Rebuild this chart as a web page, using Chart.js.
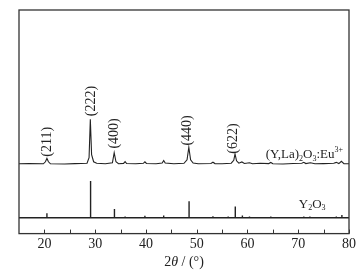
<!DOCTYPE html>
<html>
<head>
<meta charset="utf-8">
<script src="https://cdn.jsdelivr.net/npm/chart.js@4/dist/chart.umd.min.js"></script>
<style>
  html, body { margin: 0; padding: 0; background: #fff; }
  #wrap { width: 361px; height: 271px; }
</style>
</head>
<body>
<div id="wrap"><canvas id="xrd"></canvas></div>
<script>
// Upper pattern, (Y,La)2O3:Eu3+ (2theta, relative intensity)
const upperX = [15, 17, 19.8, 20.2, 20.5, 20.8, 21.2, 24, 26, 28.4, 28.8, 29.05, 29.3, 29.7, 30.3, 32,
    33.4, 33.75, 34.1, 34.6, 35.6, 35.9, 36.2, 38, 39.5, 39.8, 40.1, 42, 43.2, 43.5, 43.8, 45.5,
    47.5, 48.1, 48.45, 48.8, 49.3, 50.3, 52.8, 53.2, 53.6, 55, 56.8, 57.3, 57.55, 57.85, 58.3,
    58.9, 59.4, 60.4, 61, 62.5, 64.2, 64.6, 65, 67, 69, 70.7, 71.1, 71.5, 72.4, 73.3, 75, 77,
    77.5, 78, 78.5, 79, 80];
const upperY = [69, 69.3, 69, 71, 74.3, 71, 69, 68.8, 69.2, 69.5, 75, 113, 78, 71, 69.5, 69,
    70, 80, 71, 69, 69.4, 71.2, 69.3, 69, 69.5, 71, 69.3, 69, 69.8, 72.3, 69.8, 69,
    69.5, 73, 85.3, 73, 69.8, 69, 69.3, 70.5, 69.2, 69, 69.6, 72.5, 78.7, 72, 69.6,
    70.8, 69.3, 70, 69, 69.5, 69.2, 70.3, 69, 68.8, 69.3, 69.5, 70.5, 69.2, 70, 69, 69.2, 69.5,
    70.4, 69.2, 71.5, 69.2, 69];

// Lower pattern, Y2O3 reference sticks
const lowerBase = 15.7;
const stickPos = [20.5, 29.1, 33.8, 35.9, 39.8, 43.5, 47.2, 48.5, 50.3, 53.2, 56.2, 57.6,
    59.0, 60.4, 62.6, 64.6, 66.5, 70.3, 71.1, 72.3, 73.3, 75.2, 77.5, 78.6];
const stickTop = [20, 52, 24.3, 17, 17.7, 17.8, 16.5, 32, 16.5, 17.2, 16.8, 26.7,
    18, 17, 16.5, 17, 16.5, 16.5, 17, 16.8, 16.5, 16.5, 17, 18.5];

// Miller index labels
const hklText = ['(211)', '(222)', '(400)', '(440)', '(622)'];
const hklPos = [20.5, 29.2, 33.7, 48.2, 57.3];
const hklBottom = [76, 116, 84, 87, 79];

const xTicks = [20, 30, 40, 50, 60, 70, 80];
const minorTicks = [20, 25, 30, 35, 40, 45, 50, 55, 60, 65, 70, 75, 80];

const ink = '#222';
const serif = '"Liberation Serif", "DejaVu Serif", serif';

const upperData = upperX.map((x, i) => ({ x: x, y: upperY[i] }));
const lowerData = [{ x: 15, y: lowerBase }];
stickPos.forEach((x, i) => {
    lowerData.push({ x: x, y: lowerBase }, { x: x, y: stickTop[i] }, { x: x, y: lowerBase });
});
lowerData.push({ x: 80, y: lowerBase });

// draws text with sub/superscript/italic parts
function richText(ctx, parts, x, y, size) {
    let cx = x;
    parts.forEach(p => {
        const fs = (p[1] === 1 || p[1] === 2) ? size * 0.62 : size;
        ctx.font = (p[1] === 3 ? 'italic ' : '') + fs + 'px ' + serif;
        const dy = p[1] === 1 ? size * 0.3 : (p[1] === 2 ? -size * 0.38 : 0);
        ctx.fillText(p[0], cx, y + dy);
        cx += ctx.measureText(p[0]).width;
    });
    return cx - x;
}

const decorations = {
    id: 'decorations',
    afterDraw(chart) {
        const ctx = chart.ctx;
        const xs = chart.scales.x, ys = chart.scales.y;
        const a = chart.chartArea;
        ctx.save();
        // frame
        ctx.strokeStyle = '#333';
        ctx.lineWidth = 1.3;
        ctx.strokeRect(a.left, a.top, a.right - a.left, a.bottom - a.top);
        // inward ticks
        ctx.lineWidth = 1;
        minorTicks.forEach(v => {
            const px = Math.round(xs.getPixelForValue(v)) + 0.5;
            ctx.beginPath();
            ctx.moveTo(px, a.bottom);
            ctx.lineTo(px, a.bottom - 4);
            ctx.stroke();
        });
        // hkl labels
        ctx.fillStyle = ink;
        ctx.font = '14px ' + serif;
        ctx.textBaseline = 'middle';
        ctx.textAlign = 'left';
        hklText.forEach((t, i) => {
            ctx.save();
            ctx.translate(xs.getPixelForValue(hklPos[i]), ys.getPixelForValue(hklBottom[i]));
            ctx.rotate(-Math.PI / 2);
            ctx.fillText(t, 0, 0);
            ctx.restore();
        });
        // sample names
        richText(ctx, [['(Y,La)', 0], ['2', 1], ['O', 0], ['3', 1], [':Eu', 0], ['3+', 2]],
            xs.getPixelForValue(63.6), ys.getPixelForValue(78), 13);
        richText(ctx, [['Y', 0], ['2', 1], ['O', 0], ['3', 1]],
            xs.getPixelForValue(70.1), ys.getPixelForValue(29), 13);
        // axis title with italic theta
        const title = [['2', 0], ['θ', 3], [' / (°)', 0]];
        ctx.globalAlpha = 0;
        const w = richText(ctx, title, 0, -50, 14);
        ctx.globalAlpha = 1;
        richText(ctx, title, (a.left + a.right) / 2 - w / 2, chart.height - 9, 14);
        ctx.restore();
    }
};

new Chart(document.getElementById('xrd'), {
    type: 'scatter',
    data: {
        datasets: [
            { data: upperData, showLine: true, borderColor: ink, borderWidth: 1.1, pointRadius: 0, tension: 0 },
            { data: lowerData, showLine: true, borderColor: ink, borderWidth: 1.4, pointRadius: 0, tension: 0 }
        ]
    },
    options: {
        responsive: true,
        maintainAspectRatio: false,
        animation: false,
        layout: { padding: { left: 19, right: 12, top: 10, bottom: 0 } },
        plugins: { legend: { display: false }, tooltip: { enabled: false } },
        scales: {
            x: {
                type: 'linear',
                min: 15,
                max: 80,
                afterBuildTicks: s => { s.ticks = xTicks.map(v => ({ value: v })); },
                grid: { display: false, drawTicks: false },
                border: { display: false },
                ticks: { color: ink, padding: 2, font: { family: serif, size: 14 } },
                title: {
                    display: true,
                    text: ' ',
                    color: ink,
                    padding: { top: 0, bottom: 1 },
                    font: { family: serif, size: 13 }
                }
            },
            y: {
                display: false,
                min: 0,
                max: 221
            }
        }
    },
    plugins: [decorations]
});
</script>
</body>
</html>
